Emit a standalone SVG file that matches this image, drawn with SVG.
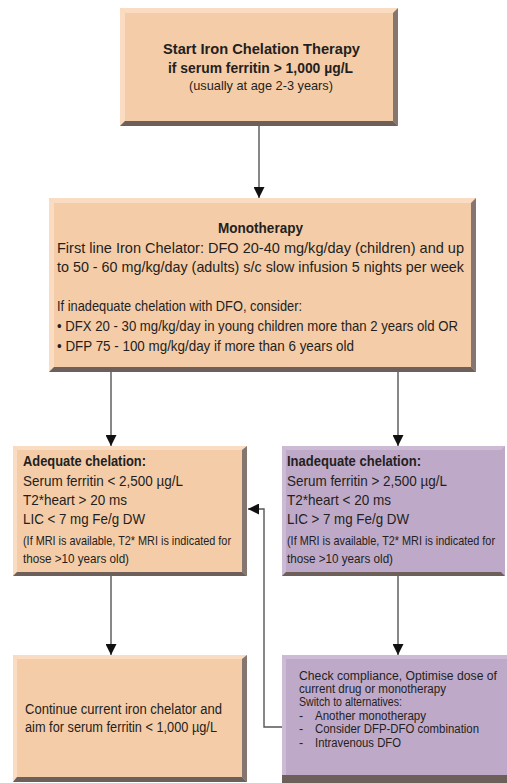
<svg xmlns="http://www.w3.org/2000/svg" width="507" height="783" viewBox="0 0 507 783">
<defs>
<style>
text{font-family:"Liberation Sans",Arial,sans-serif;fill:#231f20;}
.b{font-weight:bold;}
.h{font-size:15px;}
.t{font-size:14.5px;}
.s{font-size:13px;}
.m{font-size:14px;}
.r{font-size:12.5px;}
.pe{fill:#f5cca8;}
.pel{fill:#fadcc2;}
.pu{fill:#bfa9c9;}
.pul{fill:#cdbbd6;}
.sh{fill:#6d605b;}
.shr{fill:#857670;}
.ln{fill:none;stroke:#555;stroke-width:1.4;}
</style>
<marker id="ah" viewBox="0 0 10 10" refX="10" refY="5" markerWidth="11" markerHeight="11" markerUnits="userSpaceOnUse" orient="auto">
<path d="M0,0 L10,5 L0,10 z" fill="#111"/>
</marker>
</defs>
<rect width="507" height="783" fill="#fff"/>

<g id="start">
<rect class="pe" x="120" y="8" width="278" height="118"/>
<polygon class="pel" points="120,8 398,8 393,13 125,13"/>
<polygon class="pel" points="120,8 125,13 125,121 120,126"/>
<polygon class="shr" points="398,8 398,126 393,121 393,13"/>
<polygon class="sh" points="120,126 398,126 393,121 125,121"/>
<text class="b h" x="163" y="54" textLength="197" lengthAdjust="spacingAndGlyphs">Start Iron Chelation Therapy</text>
<text class="b h" x="168" y="73" textLength="185" lengthAdjust="spacingAndGlyphs">if serum ferritin &gt; 1,000 µg/L</text>
<text class="s" x="189" y="90" textLength="144" lengthAdjust="spacingAndGlyphs">(usually at age 2-3 years)</text>
</g>

<g id="mono">
<rect class="pe" x="49" y="198" width="427" height="174"/>
<polygon class="pel" points="49,198 476,198 471,203 54,203"/>
<polygon class="pel" points="49,198 54,203 54,367 49,372"/>
<polygon class="shr" points="476,198 476,372 471,367 471,203"/>
<polygon class="sh" points="49,372 476,372 471,367 54,367"/>
<text class="b t" x="218" y="233" textLength="85" lengthAdjust="spacingAndGlyphs">Monotherapy</text>
<text class="t" x="57" y="253" textLength="407" lengthAdjust="spacingAndGlyphs">First line Iron Chelator: DFO 20-40 mg/kg/day (children) and up</text>
<text class="t" x="57" y="272" textLength="407" lengthAdjust="spacingAndGlyphs">to 50 - 60 mg/kg/day (adults) s/c slow infusion 5 nights per week</text>
<text class="t" x="57" y="311" textLength="245" lengthAdjust="spacingAndGlyphs">If inadequate chelation with DFO, consider:</text>
<text class="t" x="57" y="331" textLength="401" lengthAdjust="spacingAndGlyphs">• DFX 20 - 30 mg/kg/day in young children more than 2 years old OR</text>
<text class="t" x="57" y="351" textLength="297" lengthAdjust="spacingAndGlyphs">• DFP 75 - 100 mg/kg/day if more than 6 years old</text>
</g>

<g id="adequate">
<rect class="pe" x="13" y="446" width="234" height="130"/>
<polygon class="pel" points="13,446 247,446 242,450 17,450"/>
<polygon class="pel" points="13,446 17,450 17,572 13,576"/>
<polygon class="shr" points="247,446 247,576 242,572 242,450"/>
<polygon class="sh" points="13,576 247,576 242,572 17,572"/>
<text class="b t" x="23" y="466" textLength="123" lengthAdjust="spacingAndGlyphs">Adequate chelation:</text>
<text class="t" x="23" y="486" textLength="160" lengthAdjust="spacingAndGlyphs">Serum ferritin &lt; 2,500 µg/L</text>
<text class="t" x="23" y="505" textLength="104" lengthAdjust="spacingAndGlyphs">T2*heart &gt; 20 ms</text>
<text class="t" x="23" y="524" textLength="122" lengthAdjust="spacingAndGlyphs">LIC &lt; 7 mg Fe/g DW</text>
<text class="s" x="23" y="545" textLength="208" lengthAdjust="spacingAndGlyphs">(If MRI is available, T2* MRI is indicated for</text>
<text class="s" x="23" y="563" textLength="106" lengthAdjust="spacingAndGlyphs">those &gt;10 years old)</text>
</g>

<g id="inadequate">
<rect class="pu" x="282" y="446" width="223" height="130"/>
<polygon class="pul" points="282,446 505,446 501,450 286,450"/>
<polygon class="pul" points="282,446 286,450 286,572 282,576"/>
<polygon class="sh" points="282,576 505,576 501,572 286,572"/>
<text class="b t" x="287" y="466" textLength="134" lengthAdjust="spacingAndGlyphs">Inadequate chelation:</text>
<text class="t" x="287" y="486" textLength="160" lengthAdjust="spacingAndGlyphs">Serum ferritin &gt; 2,500 µg/L</text>
<text class="t" x="287" y="505" textLength="104" lengthAdjust="spacingAndGlyphs">T2*heart &lt; 20 ms</text>
<text class="t" x="287" y="524" textLength="122" lengthAdjust="spacingAndGlyphs">LIC &gt; 7 mg Fe/g DW</text>
<text class="s" x="287" y="545" textLength="208" lengthAdjust="spacingAndGlyphs">(If MRI is available, T2* MRI is indicated for</text>
<text class="s" x="287" y="563" textLength="106" lengthAdjust="spacingAndGlyphs">those &gt;10 years old)</text>
</g>

<g id="continue">
<rect class="pe" x="13" y="655" width="234" height="127"/>
<polygon class="pel" points="13,655 247,655 242,659 17,659"/>
<polygon class="pel" points="13,655 17,659 17,777 13,782"/>
<polygon class="shr" points="247,655 247,782 242,777 242,659"/>
<polygon class="sh" points="13,782 247,782 242,777 17,777"/>
<text class="m" x="25" y="714" textLength="197" lengthAdjust="spacingAndGlyphs">Continue current iron chelator and</text>
<text class="m" x="25" y="732" textLength="192" lengthAdjust="spacingAndGlyphs">aim for serum ferritin &lt; 1,000 µg/L</text>
</g>

<g id="check">
<rect class="pu" x="282" y="655" width="225" height="128"/>
<polygon class="pul" points="282,655 507,655 507,659 286,659"/>
<polygon class="pul" points="282,655 286,659 286,775 282,783"/>
<rect class="sh" x="282" y="775" width="225" height="8"/>
<text class="r" x="299" y="680" textLength="198" lengthAdjust="spacingAndGlyphs">Check compliance, Optimise dose of</text>
<text class="r" x="299" y="693" textLength="147" lengthAdjust="spacingAndGlyphs">current drug or monotherapy</text>
<text class="r" x="299" y="706" textLength="103" lengthAdjust="spacingAndGlyphs">Switch to alternatives:</text>
<text class="r" x="299" y="720">-</text><text class="r" x="315" y="720" textLength="111" lengthAdjust="spacingAndGlyphs">Another monotherapy</text>
<text class="r" x="299" y="733">-</text><text class="r" x="315" y="733" textLength="164" lengthAdjust="spacingAndGlyphs">Consider DFP-DFO combination</text>
<text class="r" x="299" y="747">-</text><text class="r" x="315" y="747" textLength="86" lengthAdjust="spacingAndGlyphs">Intravenous DFO</text>
</g>

<g id="connectors">
<line class="ln" x1="259" y1="126" x2="259" y2="198" marker-end="url(#ah)"/>
<line class="ln" x1="111" y1="372" x2="111" y2="446" marker-end="url(#ah)"/>
<line class="ln" x1="398" y1="372" x2="398" y2="446" marker-end="url(#ah)"/>
<line class="ln" x1="111" y1="576" x2="111" y2="655" marker-end="url(#ah)"/>
<line class="ln" x1="398" y1="576" x2="398" y2="655" marker-end="url(#ah)"/>
<polyline class="ln" points="282,727 264,727 264,509 248,509" marker-end="url(#ah)"/>
</g>
</svg>
